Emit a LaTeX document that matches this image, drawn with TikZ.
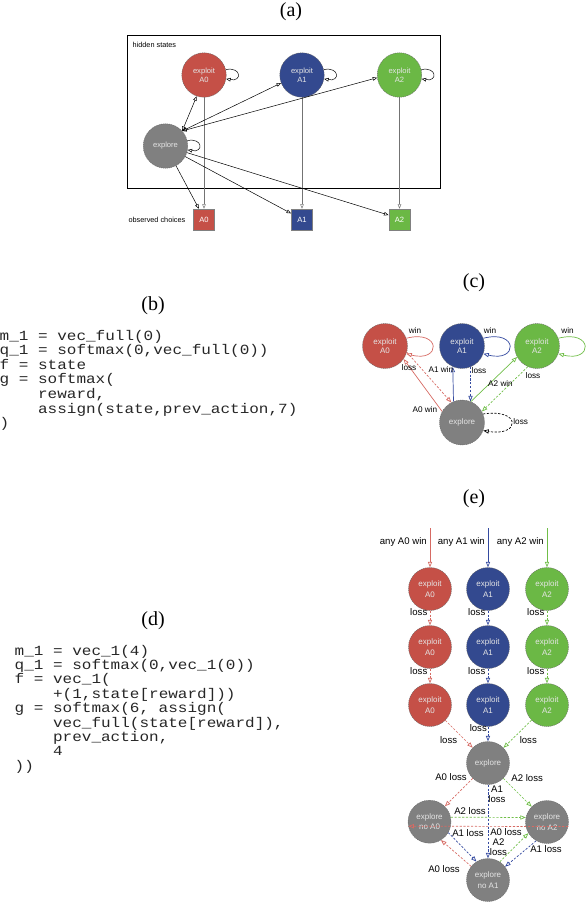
\documentclass[tikz,border=0pt]{standalone}
\usepackage{fontspec}
\setmainfont{Liberation Serif}
\setsansfont{Liberation Sans}
\newfontfamily\codefont{Liberation Mono}
\usetikzlibrary{arrows.meta}

\definecolor{nred}{RGB}{197,80,71}
\definecolor{nblue}{RGB}{51,73,143}
\definecolor{ngreen}{RGB}{107,184,69}
\definecolor{ngray}{RGB}{128,128,128}
\definecolor{lred}{RGB}{214,106,99}
\definecolor{lblue}{RGB}{52,74,160}
\definecolor{lgreen}{RGB}{112,190,72}
\newcommand{\ind}{\phantom{xxxx}}

\begin{document}
\begin{tikzpicture}
[x=1pt,y=-1pt,
%
state/.style={circle,inner sep=0pt,draw=black!60,dash pattern=on 1.2pt off .8pt,text=white!90!black,align=center},
sa/.style={state,minimum size=44.5pt,font=\sffamily\fontsize{7.6}{9}\selectfont},
sc/.style={state,minimum size=45pt,font=\sffamily\fontsize{8}{8.7}\selectfont},
se/.style={state,minimum size=43pt,font=\sffamily\fontsize{8}{10.7}\selectfont},
choice/.style={rectangle,minimum size=21pt,inner sep=0pt,draw=black!50,line width=.9pt,text=white,font=\sffamily\fontsize{7.6}{9}\selectfont},
title/.style={inner sep=0pt,font=\fontsize{20}{24}\selectfont},
code/.style={anchor=base west,inner sep=0pt,xscale=1.143,text=black!85,font=\codefont\fontsize{14}{14}\selectfont},
lbla/.style={inner sep=0pt,font=\sffamily\fontsize{7.3}{9}\selectfont},
lblc/.style={inner sep=0pt,font=\sffamily\fontsize{8.2}{9}\selectfont},
lble/.style={inner sep=0pt,font=\sffamily\fontsize{9.6}{10}\selectfont,align=center},
%
arA/.style={>={Triangle[open,length=4.5pt,width=3.6pt]},->,line width=.5pt},
arC/.style={>={Triangle[open,length=5.5pt,width=4.2pt]},->,line width=.7pt},
dsh/.style={dash pattern=on 2.2pt off 1.6pt}]
%
\useasboundingbox (0,0) rectangle (586,902);
% titles
\node[title] (ta) at (291,12) {(a)};
\node[title] (tb) at (153,306) {(b)};
\node[title] (tc) at (474,283) {(c)};
\node[title] (td) at (153,621) {(d)};
\node[title] (te) at (474,499) {(e)};
%
% (a) hidden states and observed choices
\node[draw,line width=.7pt,minimum width=313pt,minimum height=153pt,anchor=north west,inner sep=0pt] (hid) at (127,35) {};
\node[lbla,anchor=west] (hidl) at (132.5,45) {hidden states};
\node[lbla,anchor=west] (obsl) at (128.3,219.5) {observed choices};
\node[sa,fill=nred] (ea0) at (204,75) {exploit\\A0};
\node[sa,fill=nblue] (ea1) at (302,75) {exploit\\A1};
\node[sa,fill=ngreen] (ea2) at (399.5,75) {exploit\\A2};
\node[sa,fill=ngray] (exa) at (165.5,146) {explore};
\node[choice,fill=nred] (oa0) at (204,219.7) {A0};
\node[choice,fill=nblue] (oa1) at (302,219.7) {A1};
\node[choice,fill=ngreen] (oa2) at (399.5,219.7) {A2};
\foreach \n in {ea0,ea1,ea2,exa}
\draw[arA] (\n.14) .. controls +(16,-3) and +(16,3) .. (\n.-10);
\foreach \n in {0,1,2}
\draw[arA,black!55] (ea\n) -- (oa\n);
\draw[arA] (exa) -- (oa0.115);
\draw[arA] (exa) -- (oa1.150);
\draw[arA] (exa) -- (oa2.157);
\foreach \n/\a in {ea0/-109,ea1/201,ea2/187}
\draw[arA,<->] (exa.42) -- (\n.\a);
%
% (b)
\foreach \t [count=\i] in {{m\_1 = vec\_full(0)},{q\_1 = softmax(0,vec\_full(0))},{f = state},{g = softmax(},{\ind reward,},{\ind assign(state,prev\_action,7)},{)}}
\node[code] (b\i) at (-0.5,325.4+14.6*\i) {\t};
%
% (c)
\node[sc,fill=nred] (c0) at (385,346) {exploit\\A0};
\node[sc,fill=nblue] (c1) at (462,346) {exploit\\A1};
\node[sc,fill=ngreen] (c2) at (537,346) {exploit\\A2};
\node[sc,fill=ngray] (cx) at (462,422.5) {explore};
\foreach \n/\col in {c0/lred,c1/lblue,c2/lgreen}
\draw[arC,\col] (\n.20) .. controls +(35,-9) and +(35,9) .. (\n.-20);
\node[lblc] (w0) at (415,331) {win};
\node[lblc] (w1) at (490,331) {win};
\node[lblc] (w2) at (567.5,331) {win};
\draw[arC,dsh] (cx.22) .. controls +(38,-6) and +(38,6) .. (cx.-21);
\node[lblc] (lx) at (520.7,421.7) {loss};
\draw[arC,lred] (cx.151) -- (c0.-35);
\draw[arC,lred,dsh] (c0.-16) -- (cx.118);
\draw[arC,lblue] (cx.112) -- (c1.-114);
\draw[arC,lblue,dsh] (c1.-68) -- (cx.68);
\draw[arC,lgreen] (cx.67) -- (c2.209);
\draw[arC,lgreen,dsh] (c2.-114) -- (cx.29);
\node[lblc] (l0) at (409,368) {loss};
\node[lblc] (g0) at (425,410) {A0 win};
\node[lblc] (g1) at (441,369.5) {A1 win};
\node[lblc] (l1) at (479,371) {loss};
\node[lblc] (g2) at (500.5,383.3) {A2 win};
\node[lblc] (l2) at (533,375.7) {loss};
%
% (d)
\foreach \t [count=\i] in {{m\_1 = vec\_1(4)},{q\_1 = softmax(0,vec\_1(0))},{f = vec\_1(},{\ind +(1,state[reward]))},{g = softmax(6, assign(},{\ind vec\_full(state[reward]),},{\ind prev\_action,},{\ind 4},{))}}
\node[code] (d\i) at (14.5,640.6+14.4*\i) {\t};
%
% (e) exploit chains
\foreach \c/\col/\ecol/\xx in {0/nred/lred/430,1/nblue/lblue/488,2/ngreen/lgreen/547}{
\foreach \r in {0,1,2}
\node[se,fill=\col] (ex\c\r) at (\xx,589+58*\r) {exploit\\A\c};
\coordinate (in\c) at (\xx,528);
\draw[arC,\ecol] (in\c) -- (ex\c0);
\node[lble,anchor=east] (an\c) at (\xx-3,542) {any A\c\ win};
\draw[arC,\ecol,dsh] (ex\c0) -- (ex\c1);
\draw[arC,\ecol,dsh] (ex\c1) -- (ex\c2);
\node[lble,anchor=east] (la\c) at (\xx-2.5,612) {loss};
\node[lble,anchor=east] (lb\c) at (\xx-2.5,671) {loss};
}
% (e) explore states
\node[se,fill=ngray] (xe) at (488,763) {explore};
\node[se,fill=ngray] (xn0) at (429.5,821.7) {explore\\no A0};
\node[se,fill=ngray] (xn2) at (547,822) {explore\\no A2};
\node[se,fill=ngray] (xn1) at (488,880) {explore\\no A1};
\draw[arC,lred,dsh] (ex02) -- (xe);
\draw[arC,lblue,dsh] (ex12) -- (xe);
\draw[arC,lgreen,dsh] (ex22) -- (xe);
\node[lble] (lc0) at (448.6,740) {loss};
\node[lble] (lc1) at (478.3,728.3) {loss};
\node[lble] (lc2) at (528.3,740) {loss};
\draw[arC,lred,dsh] (xe) -- (xn0);
\draw[arC,lgreen,dsh] (xe) -- (xn2);
\draw[arC,lblue,dsh] (xe) -- (xn1);
\draw[arC,lgreen,dsh] (xn0.12) -- (xn2.168);
\draw[arC,lred,dsh] (xn2.-12) -- (xn0.-168);
\draw[arC,lblue,dsh] (xn0.-30) -- (xn1.122);
\draw[arC,lred,dsh] (xn1.141) -- (xn0.-58);
\draw[arC,lgreen,dsh] (xn1.57) -- (xn2.-149);
\draw[arC,lblue,dsh] (xn2.-120) -- (xn1.38);
\node[lble] (m0) at (451,776.7) {A0 loss};
\node[lble] (m2) at (527.2,777.7) {A2 loss};
\node[lble] (m1) at (497,794) {A1\\loss};
\node[lble] (n02) at (470,811) {A2 loss};
\node[lble] (n20) at (506,831.7) {A0 loss};
\node[lble] (n01) at (468,832.7) {A1 loss};
\node[lble] (n10) at (444,869.3) {A0 loss};
\node[lble] (n12) at (498.5,847) {A2\\loss};
\node[lble] (n21) at (546,849.3) {A1 loss};
\end{tikzpicture}
\end{document}
